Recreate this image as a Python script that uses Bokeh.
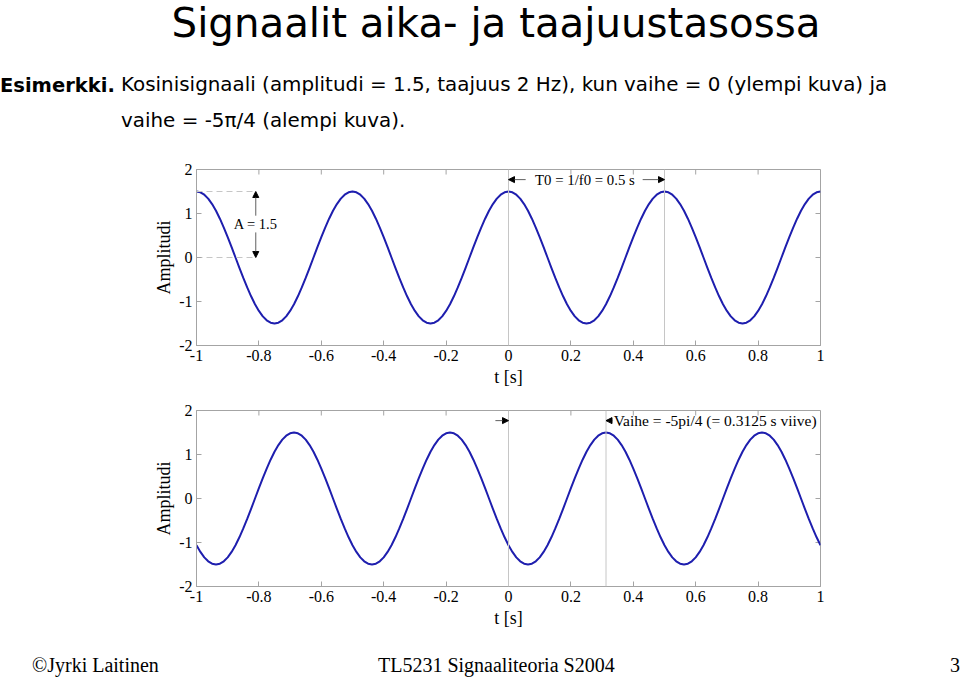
from bokeh.plotting import figure
from bokeh.layouts import column
from bokeh.models import Range1d, Label, Arrow, NormalHead, Span, FixedTicker, Div
from bokeh.embed import file_html
from bokeh.resources import INLINE

# ---------------- data ----------------
T = [
    -1.0, -0.9875, -0.975, -0.9625, -0.95, -0.9375, -0.925, -0.9125,
    -0.9, -0.8875, -0.875, -0.8625, -0.85, -0.8375, -0.825, -0.8125,
    -0.8, -0.7875, -0.775, -0.7625, -0.75, -0.7375, -0.725, -0.7125,
    -0.7, -0.6875, -0.675, -0.6625, -0.65, -0.6375, -0.625, -0.6125,
    -0.6, -0.5875, -0.575, -0.5625, -0.55, -0.5375, -0.525, -0.5125,
    -0.5, -0.4875, -0.475, -0.4625, -0.45, -0.4375, -0.425, -0.4125,
    -0.4, -0.3875, -0.375, -0.3625, -0.35, -0.3375, -0.325, -0.3125,
    -0.3, -0.2875, -0.275, -0.2625, -0.25, -0.2375, -0.225, -0.2125,
    -0.2, -0.1875, -0.175, -0.1625, -0.15, -0.1375, -0.125, -0.1125,
    -0.1, -0.0875, -0.075, -0.0625, -0.05, -0.0375, -0.025, -0.0125,
    0.0, 0.0125, 0.025, 0.0375, 0.05, 0.0625, 0.075, 0.0875,
    0.1, 0.1125, 0.125, 0.1375, 0.15, 0.1625, 0.175, 0.1875,
    0.2, 0.2125, 0.225, 0.2375, 0.25, 0.2625, 0.275, 0.2875,
    0.3, 0.3125, 0.325, 0.3375, 0.35, 0.3625, 0.375, 0.3875,
    0.4, 0.4125, 0.425, 0.4375, 0.45, 0.4625, 0.475, 0.4875,
    0.5, 0.5125, 0.525, 0.5375, 0.55, 0.5625, 0.575, 0.5875,
    0.6, 0.6125, 0.625, 0.6375, 0.65, 0.6625, 0.675, 0.6875,
    0.7, 0.7125, 0.725, 0.7375, 0.75, 0.7625, 0.775, 0.7875,
    0.8, 0.8125, 0.825, 0.8375, 0.85, 0.8625, 0.875, 0.8875,
    0.9, 0.9125, 0.925, 0.9375, 0.95, 0.9625, 0.975, 0.9875,
    1.0,
]

# upper panel: phase = 0
Y_PHASE_0 = [
    1.5, 1.482, 1.427, 1.337, 1.214, 1.061, 0.882, 0.681, 0.464, 0.235,
    0.0, -0.235, -0.464, -0.681, -0.882, -1.061, -1.214, -1.337, -1.427, -1.482,
    -1.5, -1.482, -1.427, -1.337, -1.214, -1.061, -0.882, -0.681, -0.464, -0.235,
    0.0, 0.235, 0.464, 0.681, 0.882, 1.061, 1.214, 1.337, 1.427, 1.482,
    1.5, 1.482, 1.427, 1.337, 1.214, 1.061, 0.882, 0.681, 0.464, 0.235,
    0.0, -0.235, -0.464, -0.681, -0.882, -1.061, -1.214, -1.337, -1.427, -1.482,
    -1.5, -1.482, -1.427, -1.337, -1.214, -1.061, -0.882, -0.681, -0.464, -0.235,
    0.0, 0.235, 0.464, 0.681, 0.882, 1.061, 1.214, 1.337, 1.427, 1.482,
    1.5, 1.482, 1.427, 1.337, 1.214, 1.061, 0.882, 0.681, 0.464, 0.235,
    0.0, -0.235, -0.464, -0.681, -0.882, -1.061, -1.214, -1.337, -1.427, -1.482,
    -1.5, -1.482, -1.427, -1.337, -1.214, -1.061, -0.882, -0.681, -0.464, -0.235,
    0.0, 0.235, 0.464, 0.681, 0.882, 1.061, 1.214, 1.337, 1.427, 1.482,
    1.5, 1.482, 1.427, 1.337, 1.214, 1.061, 0.882, 0.681, 0.464, 0.235,
    0.0, -0.235, -0.464, -0.681, -0.882, -1.061, -1.214, -1.337, -1.427, -1.482,
    -1.5, -1.482, -1.427, -1.337, -1.214, -1.061, -0.882, -0.681, -0.464, -0.235,
    0.0, 0.235, 0.464, 0.681, 0.882, 1.061, 1.214, 1.337, 1.427, 1.482,
    1.5,
]

# lower panel: phase = -5*pi/4
Y_PHASE_5PI4 = [
    -1.061, -1.214, -1.337, -1.427, -1.482, -1.5, -1.482, -1.427, -1.337, -1.214,
    -1.061, -0.882, -0.681, -0.464, -0.235, 0.0, 0.235, 0.464, 0.681, 0.882,
    1.061, 1.214, 1.337, 1.427, 1.482, 1.5, 1.482, 1.427, 1.337, 1.214,
    1.061, 0.882, 0.681, 0.464, 0.235, 0.0, -0.235, -0.464, -0.681, -0.882,
    -1.061, -1.214, -1.337, -1.427, -1.482, -1.5, -1.482, -1.427, -1.337, -1.214,
    -1.061, -0.882, -0.681, -0.464, -0.235, 0.0, 0.235, 0.464, 0.681, 0.882,
    1.061, 1.214, 1.337, 1.427, 1.482, 1.5, 1.482, 1.427, 1.337, 1.214,
    1.061, 0.882, 0.681, 0.464, 0.235, 0.0, -0.235, -0.464, -0.681, -0.882,
    -1.061, -1.214, -1.337, -1.427, -1.482, -1.5, -1.482, -1.427, -1.337, -1.214,
    -1.061, -0.882, -0.681, -0.464, -0.235, 0.0, 0.235, 0.464, 0.681, 0.882,
    1.061, 1.214, 1.337, 1.427, 1.482, 1.5, 1.482, 1.427, 1.337, 1.214,
    1.061, 0.882, 0.681, 0.464, 0.235, 0.0, -0.235, -0.464, -0.681, -0.882,
    -1.061, -1.214, -1.337, -1.427, -1.482, -1.5, -1.482, -1.427, -1.337, -1.214,
    -1.061, -0.882, -0.681, -0.464, -0.235, 0.0, 0.235, 0.464, 0.681, 0.882,
    1.061, 1.214, 1.337, 1.427, 1.482, 1.5, 1.482, 1.427, 1.337, 1.214,
    1.061, 0.882, 0.681, 0.464, 0.235, 0.0, -0.235, -0.464, -0.681, -0.882,
    -1.061,
]

assert len(T) == len(Y_PHASE_0) == len(Y_PHASE_5PI4)

XTICKS = [-1, -0.8, -0.6, -0.4, -0.2, 0, 0.2, 0.4, 0.6, 0.8, 1]
XTICK_LABELS = ["-1", "-0.8", "-0.6", "-0.4", "-0.2", "0", "0.2", "0.4", "0.6", "0.8", "1"]
YTICKS = [-2, -1, 0, 1, 2]
YTICK_LABELS = ["-2", "-1", "0", "1", "2"]

AMPLITUDE = 1.5
PERIOD = 0.5
DELAY = 0.3125

TITLE = "Signaalit aika- ja taajuustasossa"
LEAD = "Esimerkki."
LINE1 = "Kosinisignaali (amplitudi = 1.5, taajuus 2 Hz), kun vaihe = 0 (ylempi kuva) ja"
LINE2 = "vaihe = -5\u03c0/4 (alempi kuva)."
FOOT_LEFT = "\u00a9Jyrki Laitinen"
FOOT_MID = "TL5231 Signaaliteoria S2004"
FOOT_PAGE = "3"
TXT_AMP = "A = 1.5"
TXT_PERIOD = "T0 = 1/f0 = 0.5 s"
TXT_PHASE = "Vaihe = -5pi/4 (= 0.3125 s viive)"

# ---------------- styles ----------------
SERIF = "Liberation Serif"
SANS = "DejaVu Sans"
FRAME_GRAY = "#a4a4a4"
LINE_GRAY = "#c6c6c6"
ARROW_GRAY = "#606060"
CURVE_BLUE = "#1e1eae"
ANN_Y = 1.77
TICK_LEN_X = 0.016   # ~5 px of the x-axis
TICK_LEN_Y = 0.114   # ~5 px of the y-axis


def span_html(text, left, top, family, size, weight="normal", extra=""):
    return (f'<span style="position:absolute;left:{left}px;top:{top}px;font-family:\'{family}\';'
            f'font-size:{size}px;font-weight:{weight};line-height:1;white-space:nowrap;color:#000;{extra}">'
            f'{text}</span>')


def text_block(spans, height):
    html = (f'<div style="position:relative;width:960px;height:{height}px;margin:0;padding:0;">'
            + "".join(spans) + "</div>")
    return Div(text=html, width=960, height=height,
               styles={"margin": "0", "padding": "0", "overflow": "visible"})


def head(size=6):
    return NormalHead(size=size, fill_color="black", line_color="black", line_width=1)


def arrow(p, xs, ys, xe, ye):
    p.add_layout(Arrow(end=head(), x_start=xs, y_start=ys, x_end=xe, y_end=ye,
                       line_color=ARROW_GRAY, line_width=1))


def make_plot(y, height, top, bottom):
    p = figure(width=960, height=height, x_range=Range1d(-1, 1), y_range=Range1d(-2, 2),
               output_backend="svg", toolbar_location=None,
               min_border_left=196, min_border_right=140, min_border_top=top, min_border_bottom=bottom,
               background_fill_color="white", border_fill_color="white",
               outline_line_color=FRAME_GRAY, x_axis_label="t [s]", y_axis_label="Amplitudi")
    p.grid.visible = False
    p.xaxis.ticker = FixedTicker(ticks=XTICKS)
    p.yaxis.ticker = FixedTicker(ticks=YTICKS)
    p.xaxis.major_label_overrides = dict(zip(XTICKS, XTICK_LABELS))
    p.yaxis.major_label_overrides = dict(zip(YTICKS, YTICK_LABELS))
    for ax in [p.xaxis[0], p.yaxis[0]]:
        ax.major_tick_in = 5
        ax.major_tick_out = 0
        ax.minor_tick_line_color = None
        ax.axis_line_color = FRAME_GRAY
        ax.major_tick_line_color = FRAME_GRAY
        ax.major_label_text_font = SERIF
        ax.major_label_text_font_size = "16px"
        ax.major_label_text_color = "black"
        ax.axis_label_text_font = SERIF
        ax.axis_label_text_font_size = "18px"
        ax.axis_label_text_font_style = "normal"
        ax.axis_label_text_color = "black"
    p.xaxis.major_label_standoff = 4
    p.xaxis.axis_label_standoff = 3
    p.yaxis.major_label_standoff = 4
    p.yaxis.axis_label_standoff = 2

    # inward ticks on the top and right edges of the box
    p.segment(x0=XTICKS, y0=[2] * len(XTICKS), x1=XTICKS, y1=[2 - TICK_LEN_Y] * len(XTICKS),
              line_color=FRAME_GRAY, line_width=1)
    p.segment(x0=[1] * len(YTICKS), y0=YTICKS, x1=[1 - TICK_LEN_X] * len(YTICKS), y1=YTICKS,
              line_color=FRAME_GRAY, line_width=1)

    p.line(T, y, line_color=CURVE_BLUE, line_width=2)
    return p


# ---------------- header ----------------
hdr = text_block([
    span_html(TITLE, 496, 3.5, SANS, 40.3, extra="transform:translateX(-50%);"),
    span_html(LEAD, 0, 75.5, SANS, 19.5, weight="bold"),
    span_html(LINE1, 121, 75.2, SANS, 19.9),
    span_html(LINE2, 121, 111.2, SANS, 19.9),
], 150)

# ---------------- upper plot ----------------
p1 = make_plot(Y_PHASE_0, 240, 19, 45)
A_X = -0.81
p1.add_layout(Span(location=0, dimension="height", line_color=LINE_GRAY, line_width=1))
p1.add_layout(Span(location=PERIOD, dimension="height", line_color=LINE_GRAY, line_width=1))
p1.segment(x0=[-1, -1], y0=[AMPLITUDE, 0], x1=[A_X, A_X], y1=[AMPLITUDE, 0],
           line_color=LINE_GRAY, line_width=1, line_dash="6 4")
arrow(p1, A_X, 0.95, A_X, AMPLITUDE)
arrow(p1, A_X, 0.57, A_X, 0)
p1.add_layout(Label(x=A_X, y=0.77, text=TXT_AMP, text_align="center", text_baseline="middle",
                    text_font=SERIF, text_font_size="14.5px", text_color="black"))
arrow(p1, 0.055, ANN_Y, 0, ANN_Y)
arrow(p1, 0.43, ANN_Y, PERIOD, ANN_Y)
p1.add_layout(Label(x=0.245, y=ANN_Y, text=TXT_PERIOD, text_align="center", text_baseline="middle",
                    text_font=SERIF, text_font_size="14.8px", text_color="black"))

# ---------------- lower plot ----------------
p2 = make_plot(Y_PHASE_5PI4, 242, 20, 46)
p2.add_layout(Span(location=0, dimension="height", line_color=LINE_GRAY, line_width=1))
p2.add_layout(Span(location=DELAY, dimension="height", line_color=LINE_GRAY, line_width=1))
arrow(p2, -0.042, ANN_Y, 0, ANN_Y)
arrow(p2, 0.334, ANN_Y, DELAY, ANN_Y)
p2.add_layout(Label(x=0.337, y=ANN_Y, text=TXT_PHASE, text_align="left", text_baseline="middle",
                    text_font=SERIF, text_font_size="15.5px", text_color="black"))

# ---------------- footer ----------------
ftr = text_block([
    span_html(FOOT_LEFT, 32, 23.3, SERIF, 20),
    span_html(FOOT_MID, 378, 23.3, SERIF, 20),
    span_html(FOOT_PAGE, 950, 23.3, SERIF, 20),
], 45)

layout = column(hdr, p1, p2, ftr, spacing=0)
with open("out.html", "w", encoding="utf-8") as f:
    f.write(file_html(layout, INLINE, title="Signaalit aika- ja taajuustasossa"))
